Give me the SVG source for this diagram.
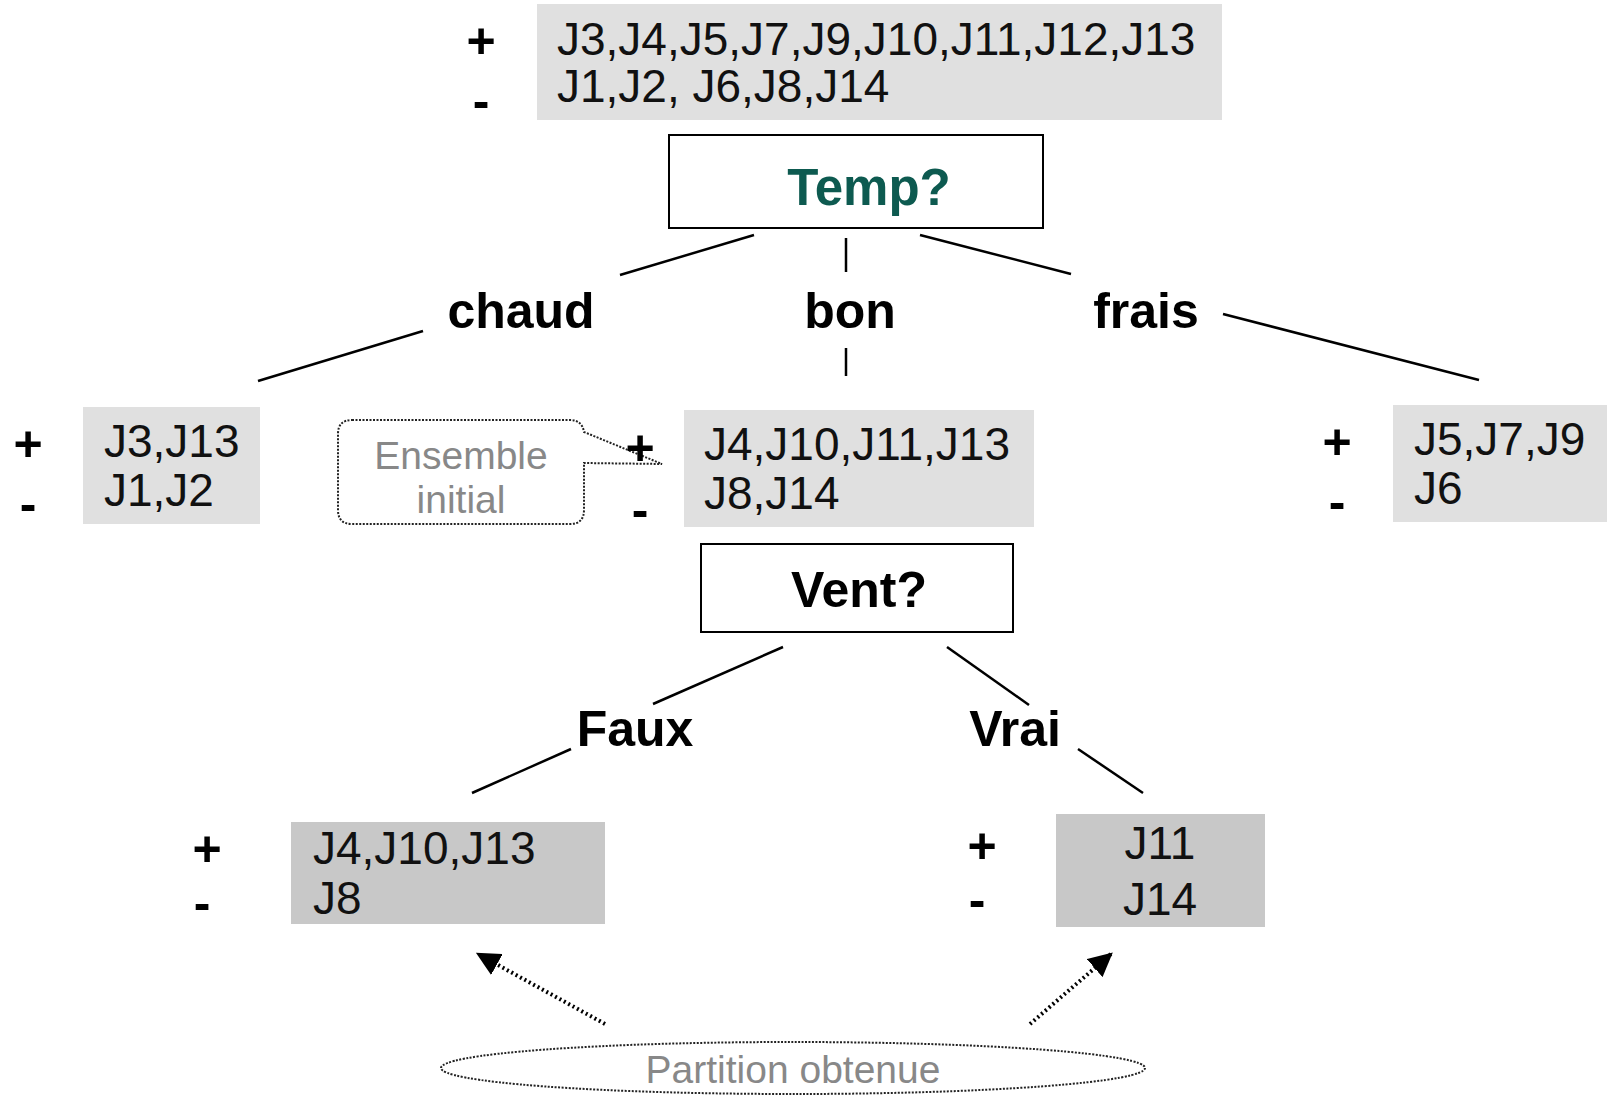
<svg xmlns="http://www.w3.org/2000/svg" width="1607" height="1096" viewBox="0 0 1607 1096">
<style>
.set{fill:#e0e0e0}
.res{fill:#c8c8c8}
.lst{font-family:"Liberation Sans",Arial,sans-serif;font-size:46px;fill:#111}
.sgn{font-family:"Liberation Sans",Arial,sans-serif;font-size:50px;font-weight:bold;fill:#000;text-anchor:middle}
.lbl{font-family:"Liberation Sans",Arial,sans-serif;font-size:50px;font-weight:bold;fill:#000;text-anchor:middle}
.test{fill:#fff;stroke:#000;stroke-width:2}
.note{font-family:"Liberation Sans",Arial,sans-serif;font-size:39px;fill:#888;text-anchor:middle}
.edge{stroke:#000;stroke-width:2.5;fill:none}
.dot{stroke:#000;stroke-width:4;stroke-dasharray:2 3;fill:none}
.dotline{stroke:#222;stroke-width:2;stroke-dasharray:2 1.5;fill:none}
</style>
<defs>
<marker id="ah" viewBox="0 0 10 10" refX="9" refY="5" markerWidth="6" markerHeight="6" orient="auto" markerUnits="strokeWidth">
<path d="M0,0 L10,5 L0,10 z" fill="#000"/>
</marker>
</defs>
<rect width="1607" height="1096" fill="#fff"/>

<g id="connectors">
<line class="edge" x1="754" y1="235" x2="620" y2="275"/>
<line class="edge" x1="423" y1="331" x2="258" y2="381"/>
<line class="edge" x1="846" y1="238" x2="846" y2="272"/>
<line class="edge" x1="846" y1="348" x2="846" y2="376"/>
<line class="edge" x1="920" y1="235" x2="1071" y2="274"/>
<line class="edge" x1="1223" y1="314" x2="1479" y2="380"/>
<line class="edge" x1="783" y1="647" x2="653" y2="704"/>
<line class="edge" x1="571" y1="749" x2="472" y2="793"/>
<line class="edge" x1="947" y1="647" x2="1029" y2="705"/>
<line class="edge" x1="1078" y1="749" x2="1143" y2="793"/>
<line class="dot" x1="605" y1="1024" x2="478" y2="954" marker-end="url(#ah)"/>
<line class="dot" x1="1030" y1="1024" x2="1111" y2="954" marker-end="url(#ah)"/>
</g>

<g id="root-set">
<rect class="set" x="537" y="4" width="685" height="116"/>
<text class="sgn" x="481" y="58">+</text>
<text class="sgn" x="481" y="118">-</text>
<text class="lst" x="557" y="55">J3,J4,J5,J7,J9,J10,J11,J12,J13</text>
<text class="lst" x="557" y="102">J1,J2, J6,J8,J14</text>
</g>

<g id="temp">
<rect class="test" x="669" y="135" width="374" height="93"/>
<text x="869" y="205" font-family="Liberation Sans, Arial, sans-serif" font-size="51" font-weight="bold" fill="#0d5a50" text-anchor="middle">Temp?</text>
</g>

<g id="labels-temp">
<text class="lbl" x="521" y="328">chaud</text>
<text class="lbl" x="850" y="328">bon</text>
<text class="lbl" x="1146" y="328">frais</text>
</g>

<g id="set-chaud">
<rect class="set" x="83" y="407" width="177" height="117"/>
<text class="sgn" x="28" y="461">+</text>
<text class="sgn" x="28" y="521">-</text>
<text class="lst" x="104" y="457">J3,J13</text>
<text class="lst" x="104" y="506">J1,J2</text>
</g>

<g id="callout">
<path class="dotline" d="M352,420 L570,420 Q582,420 584,432 L662,464 L584,463 L584,510 Q584,524 570,524 L352,524 Q338,524 338,510 L338,434 Q338,420 352,420 Z"/>
<text class="note" x="461" y="469">Ensemble</text>
<text class="note" x="461" y="513">initial</text>
</g>

<g id="set-bon">
<rect class="set" x="684" y="410" width="350" height="117"/>
<text class="sgn" x="640" y="465">+</text>
<text class="sgn" x="640" y="527">-</text>
<text class="lst" x="704" y="460">J4,J10,J11,J13</text>
<text class="lst" x="704" y="509">J8,J14</text>
</g>

<g id="set-frais">
<rect class="set" x="1393" y="405" width="214" height="117"/>
<text class="sgn" x="1337" y="459">+</text>
<text class="sgn" x="1337" y="519">-</text>
<text class="lst" x="1414" y="455">J5,J7,J9</text>
<text class="lst" x="1414" y="504">J6</text>
</g>

<g id="vent">
<rect class="test" x="701" y="544" width="312" height="88"/>
<text class="lbl" x="859" y="607">Vent?</text>
</g>

<g id="labels-vent">
<text class="lbl" x="635" y="746">Faux</text>
<text class="lbl" x="1015" y="746">Vrai</text>
</g>

<g id="set-faux">
<rect class="res" x="291" y="822" width="314" height="102"/>
<text class="sgn" x="207" y="866">+</text>
<text class="sgn" x="202" y="920">-</text>
<text class="lst" x="313" y="864">J4,J10,J13</text>
<text class="lst" x="313" y="914">J8</text>
</g>

<g id="set-vrai">
<rect class="res" x="1056" y="814" width="209" height="113"/>
<text class="sgn" x="982" y="863">+</text>
<text class="sgn" x="977" y="917">-</text>
<text class="lst" x="1160" y="859" text-anchor="middle">J11</text>
<text class="lst" x="1160" y="915" text-anchor="middle">J14</text>
</g>

<g id="partition">
<ellipse class="dotline" cx="793" cy="1068" rx="352" ry="26"/>
<text class="note" x="793" y="1083" font-size="40">Partition obtenue</text>
</g>
</svg>
